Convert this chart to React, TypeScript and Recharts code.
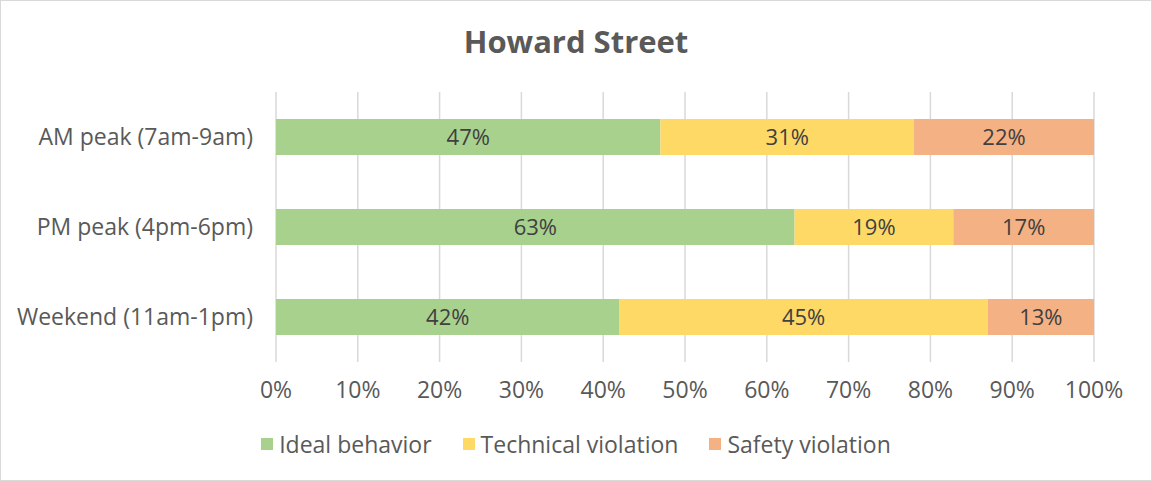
import React from 'react';
import { BarChart, Bar, XAxis, YAxis, CartesianGrid, LabelList } from 'recharts';

const categories = ['AM peak (7am-9am)', 'PM peak (4pm-6pm)', 'Weekend (11am-1pm)'];
const idealBehavior = [0.47, 0.634, 0.42];
const technicalViolation = [0.31, 0.194, 0.45];
const safetyViolation = [0.22, 0.172, 0.13];
const xTicks = [0, 0.1, 0.2, 0.3, 0.4, 0.5, 0.6, 0.7, 0.8, 0.9, 1];
const seriesNames = ['Ideal behavior', 'Technical violation', 'Safety violation'];
const seriesColors = ['#A9D18E', '#FFD966', '#F4B183'];

const data = categories.map((c, i) => ({
  name: c,
  ideal: idealBehavior[i],
  technical: technicalViolation[i],
  safety: safetyViolation[i],
}));

const FONT = '"Open Sans", "Noto Sans", sans-serif';
const pct = (v: any) => `${Math.round(Number(v) * 100)}%`;

export default function App() {
  const keys = ['ideal', 'technical', 'safety'];
  return (
    <div style={{ position: 'absolute', left: 0, top: 0, width: 1152, height: 481, background: '#fff', fontFamily: FONT }}>
      <div style={{ position: 'absolute', left: 0, top: 0, width: 1150, height: 479, border: '1px solid #d9d9d9' }} />
      <div style={{ position: 'absolute', left: 0, top: 21, width: 1152, textAlign: 'center', fontSize: 31, fontWeight: 700, color: '#595959', lineHeight: '40px' }}>
        Howard Street
      </div>
      <div style={{ position: 'absolute', left: 0, top: 0 }}>
        <BarChart
          width={1152}
          height={481}
          layout="vertical"
          data={data}
          margin={{ top: 92, right: 58, bottom: 0, left: 0 }}
          barCategoryGap="30%"
        >
          <CartesianGrid horizontal={false} stroke="#d9d9d9" strokeWidth={1.5} />
          <XAxis
            type="number"
            domain={[0, 1]}
            ticks={xTicks}
            tickFormatter={pct}
            axisLine={false}
            tickLine={false}
            tickMargin={14}
            height={119}
            tick={{ fill: '#595959', fontSize: 23, fontFamily: FONT }}
            interval={0}
          />
          <YAxis
            type="category"
            dataKey="name"
            width={276}
            axisLine={false}
            tickLine={false}
            tickMargin={17}
            tick={{ fill: '#595959', fontSize: 23, fontFamily: FONT }}
          />
          {keys.map((k, i) => (
            <Bar key={k} dataKey={k} stackId="a" fill={seriesColors[i]} isAnimationActive={false}>
              <LabelList dataKey={k} position="center" formatter={pct} fill="#404040" fontSize={22} fontFamily={FONT} />
            </Bar>
          ))}
        </BarChart>
      </div>
      <div style={{ position: 'absolute', left: 0, top: 428, width: 1152, display: 'flex', justifyContent: 'center', gap: 31, fontSize: 23, color: '#595959', lineHeight: '32px' }}>
        {seriesNames.map((n, i) => (
          <div key={n} style={{ display: 'flex', alignItems: 'center' }}>
            <span style={{ display: 'inline-block', width: 12, height: 12, background: seriesColors[i], marginRight: 6 }} />
            <span>{n}</span>
          </div>
        ))}
      </div>
    </div>
  );
}
